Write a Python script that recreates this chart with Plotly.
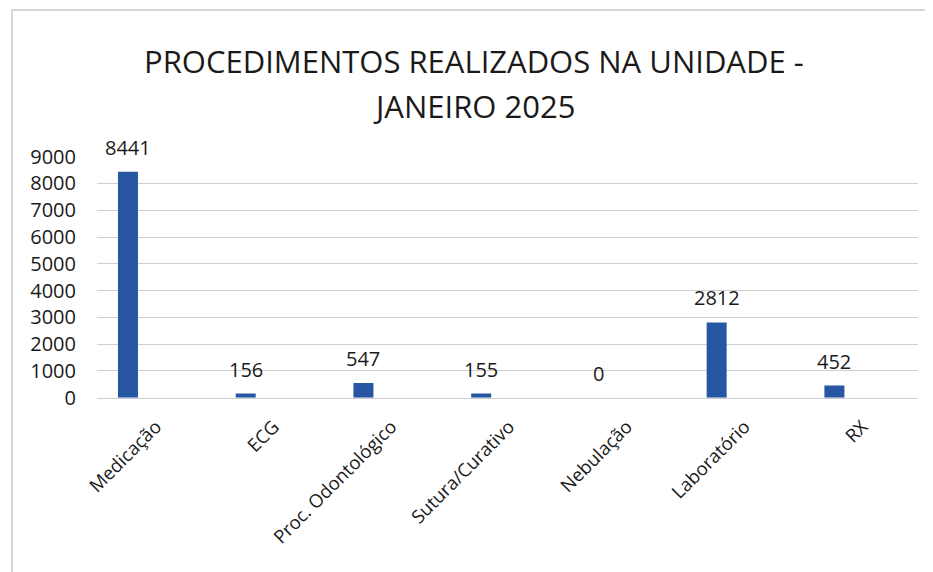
import plotly.graph_objects as go

categories = ["Medicação", "ECG", "Proc. Odontológico", "Sutura/Curativo",
              "Nebulação", "Laboratório", "RX"]
values = [8441, 156, 547, 155, 0, 2812, 452]
y_ticks = [0, 1000, 2000, 3000, 4000, 5000, 6000, 7000, 8000, 9000]
title_lines = ["PROCEDIMENTOS REALIZADOS NA UNIDADE -", "JANEIRO 2025"]

W, H = 933, 572
OFF = 8  # page body margin in the browser
FONT = "Open Sans"
TXT = "#1a1a1a"
BAR = "#2756a3"
GRID = "#cfcfcf"


def px_x(p):
    return (p - OFF) / W


def px_y(p):
    return 1 - (p - OFF) / H


fig = go.Figure()
fig.add_trace(go.Bar(
    x=list(range(len(categories))), y=values,
    width=0.17, marker=dict(color=BAR, line=dict(width=0)),
    hoverinfo="skip",
))

for i, v in enumerate(values):
    fig.add_annotation(x=i, y=v, xref="x", yref="y", text=str(v),
                       showarrow=False, yanchor="bottom", yshift=9,
                       font=dict(family=FONT, size=20, color=TXT))

fig.add_annotation(x=px_x(474), y=px_y(61), xref="paper", yref="paper",
                   text=title_lines[0], showarrow=False,
                   xanchor="center", yanchor="middle",
                   font=dict(family=FONT, size=31, color=TXT))
fig.add_annotation(x=px_x(474), y=px_y(106), xref="paper", yref="paper",
                   text=title_lines[1], showarrow=False,
                   xanchor="center", yanchor="middle",
                   font=dict(family=FONT, size=31, color=TXT))

# chart border (light gray, as in the scanned Excel chart)
fig.add_shape(type="rect", xref="paper", yref="paper",
              x0=px_x(12), x1=1.05, y0=-0.05, y1=px_y(10),
              line=dict(color="#d6d6d6", width=2), layer="below")

fig.update_layout(
    width=W, height=H,
    margin=dict(l=0, r=0, t=0, b=0, autoexpand=False),
    paper_bgcolor="white", plot_bgcolor="white",
    showlegend=False,
    font=dict(family=FONT, color=TXT),
    xaxis=dict(
        domain=[px_x(97), px_x(918)],
        range=[-0.263, 6.71],
        tickmode="array",
        tickvals=list(range(len(categories))),
        ticktext=categories,
        tickangle=-45,
        tickfont=dict(family=FONT, size=18.5, color=TXT),
        showgrid=False, zeroline=False,
        showline=True, linecolor=GRID, linewidth=1,
        ticks="", automargin=False,
        ticklabelshift=28, ticklabelstandoff=10,
    ),
    yaxis=dict(
        domain=[px_y(397.7), px_y(156.7)],
        range=[0, 9000],
        tickmode="array",
        tickvals=y_ticks,
        ticktext=[str(t) for t in y_ticks],
        tickfont=dict(family=FONT, size=20, color=TXT),
        showgrid=True, gridcolor=GRID, gridwidth=1,
        zeroline=False, showline=False,
        ticks="", ticklabelstandoff=20, automargin=False,
    ),
)

fig.write_html("out.html")
